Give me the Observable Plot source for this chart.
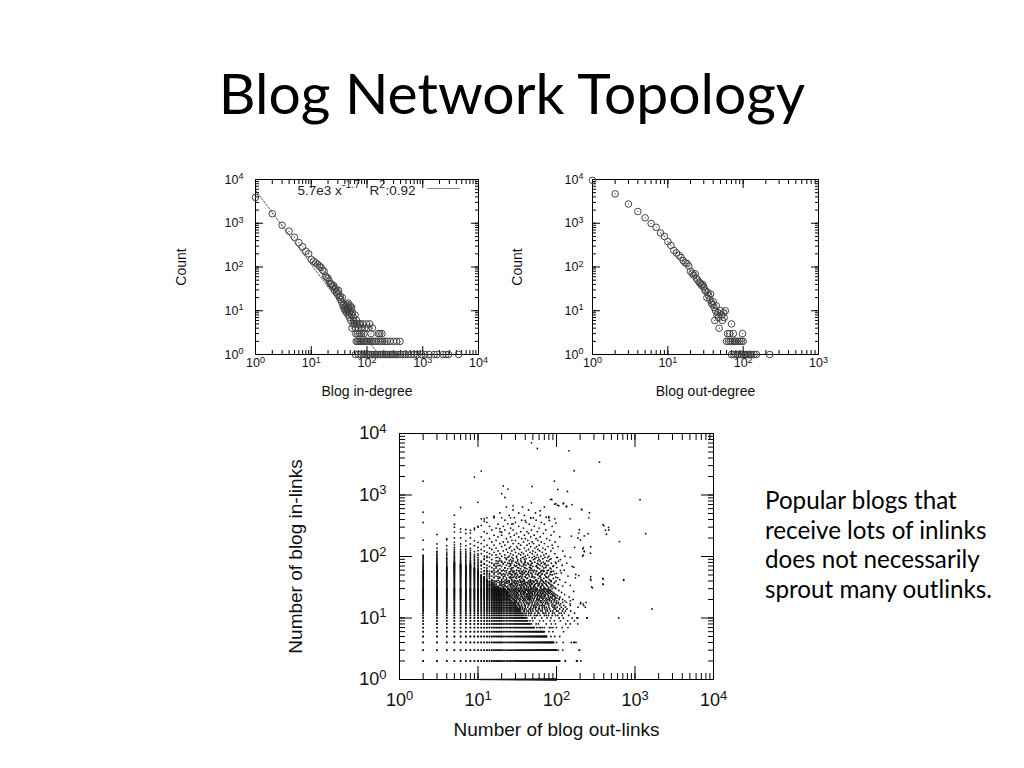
<!DOCTYPE html>
<html><head><meta charset="utf-8">
<script src="https://cdn.jsdelivr.net/npm/d3@7"></script>
<script src="https://cdn.jsdelivr.net/npm/@observablehq/plot@0.6"></script>
<style>
html,body{margin:0;padding:0;background:#fff;}
#slide{position:relative;width:1024px;height:768px;overflow:hidden;background:#fff;font-family:Lato,"Noto Sans",sans-serif;color:#000;}
#title{position:absolute;left:0;top:64px;width:1024px;text-align:center;font-size:57px;line-height:57px;}
#note{position:absolute;left:765px;top:485px;font-size:24.2px;line-height:29.7px;white-space:nowrap;}
.chart{position:absolute;}
.chart svg{overflow:visible;}
</style></head><body>
<div id="slide">
  <div id="title">Blog Network Topology</div>
  <div id="c1" class="chart" style="left:165px;top:165px;width:330px;height:235px"></div>
  <div id="c2" class="chart" style="left:505px;top:165px;width:330px;height:235px"></div>
  <div id="c3" class="chart" style="left:280px;top:420px;width:450px;height:320px"></div>
  <div id="note">Popular blogs that<br>receive lots of inlinks<br>does not necessarily<br>sprout many outlinks.</div>
</div>
<script>
// ---------- tick labels ----------
const decades4 = [1, 10, 100, 1000, 10000];
const decades3 = [1, 10, 100, 1000];
const SUP = {"0":"⁰","1":"¹","2":"²","3":"³","4":"⁴","-":"⁻"};
const UNSUP = Object.fromEntries(Object.entries(SUP).map(([k, v]) => [v, k]));
const decadeLabel = d => "10" + String(Math.round(Math.log10(d))).split("").map(c => SUP[c]).join("");

// ---------- chart 1: in-degree distribution [in-degree, count] ----------
const inDegree = [
  [1,3900],[2,1650],[3,900],[4,660],[5,480],[6,360],[7,290],[8,230],[9,200],[10,150],
  [11,135],[12,125],[13,115],[14,105],[15,98],[16,85],[17,80],[18,62],[19,58],[20,55],
  [21,48],[22,42],[23,40],[24,36],[25,38],[26,30],[27,33],[28,26],[29,28],[30,24],
  [31,29],[32,20],[33,22],[34,18],[35,16],[36,20],[37,13],[38,14],[39,11],[40,12],
  [41,10],[42,13],[43,9],[44,11],[45,10],[46,8],[47,12],[48,9],[49,7],[50,10],
  [44,14],[46,15],[50,13],[53,12],[51,6],[52,11],[53,8],[54,4],[55,9],[56,5],[57,7],[58,6],
  [60,5],[61,8],[62,4],[63,3],[65,6],[66,5],[68,3],[70,4],[72,5],[74,3],[76,5],[78,4],
  [80,3],[84,5],[88,3],[92,4],[98,5],[105,4],[112,5],[118,3],[125,4],[160,3],[170,3],[185,3],
  [64,2],[68,2],[72,2],[76,2],[80,2],[85,2],[90,2],[96,2],[102,2],[110,2],[118,2],[126,2],
  [135,2],[145,2],[160,2],[175,2],[190,2],[210,2],[230,2],[260,2],[300,2],[340,2],[390,2],
  [62,1],[70,1],[78,1],[85,1],[92,1],[100,1],[108,1],[115,1],[125,1],[135,1],[145,1],[155,1],
  [170,1],[180,1],[195,1],[210,1],[225,1],[240,1],[260,1],[280,1],[300,1],[330,1],[360,1],
  [400,1],[440,1],[480,1],[550,1],[620,1],[700,1],[800,1],[950,1],[1100,1],[1300,1],[1600,1],
  [1800,1],[2300,1],[2600,1],[2900,1],[4400,1]
];
// power-law fit shown in the key: count = 5.7e3 * x^-1.7, R^2 = 0.92
const fitA = 5.7e3, fitB = -1.7, fitR2 = 0.92;

// ---------- chart 2: out-degree distribution [out-degree, count] ----------
const outDegree = [
  [1,9600],[2,4700],[3,2750],[4,1850],[5,1330],[6,990],[7,810],[8,600],[9,500],[10,380],
  [11,310],[12,240],[13,210],[14,185],[15,165],[16,140],[17,125],[18,120],[19,105],[20,80],
  [21,72],[22,65],[23,70],[24,55],[25,50],[26,45],[27,42],[28,38],[29,40],[30,35],
  [31,30],[32,28],[33,20],[34,26],[35,22],[36,18],[37,24],[38,15],[39,14],[40,16],
  [41,12],[42,6],[43,10],[44,13],[45,8],[46,9],[47,7],[48,4],[50,10],[52,8],[53,6],
  [55,9],[56,7],[58,10],[60,2],[62,3],[64,2],[66,3],[68,2],[70,5],[72,2],[74,3],[76,2],
  [78,2],[80,2],[85,2],[90,2],[95,2],[98,3],[100,2],
  [70,1],[75,1],[80,1],[85,1],[90,1],[95,1],[100,1],[105,1],[110,1],[115,1],[120,1],
  [125,1],[130,1],[140,1],[150,1],[225,1]
];

// ---------- chart 3: out-links vs in-links ----------
// contiguous runs of integer counts that read as a solid lattice: [in-links, first out-links, last out-links]
const latticeRows = [
  [1,11,100],[2,2,110],[3,2,100],[4,2,92],[5,2,75],[6,2,70],[7,2,52],[8,2,46],[9,2,43],[10,2,40],
  [11,2,38],[12,2,37],[13,2,35],[14,2,34],[15,2,32],[16,2,31],[17,2,30],[18,2,29],[19,2,27],[20,2,26],
  [21,2,25],[22,2,25],[23,2,24],[24,2,23],[25,2,22],[26,2,22],[27,2,21],[28,2,21],[29,2,20],[30,2,20]
];
// vertical runs: [out-links, last in-links] (runs start at 2 in-links)
const latticeCols = [
  [2,60],[3,70],[4,65],[5,80],[6,75],[7,70],[8,75],[9,65],[10,60],[11,50],
  [12,46],[13,42],[14,40],[15,38],[16,35],[17,33],[18,32],[19,31],[20,30]
];
// thinning tops of those columns: [out-links, [in-links ...]]
const columnTops = [
  [2,[62,64,67,69,72,75,78,81,85,88,92,96,100,105,130,184,357,525,1680]],
  [3,[72,74,77,80,83,87,90,94,98,103,108,115,122,137,160,228]],
  [4,[67,69,72,76,79,83,88,92,97,104,110,118,130,150,187,195]],
  [5,[82,85,88,92,95,99,104,110,115,122,130,140,155,170,200,250,300,335,470]],
  [6,[77,80,84,87,91,96,101,107,113,120,130,145,160,200,250,280,626]],
  [7,[72,75,79,82,86,91,95,100,106,112,120,130,150,180,237,275]],
  [8,[77,80,83,87,92,96,102,108,115,125,135,160,200,240,265]],
  [9,[67,70,74,77,81,86,90,95,101,108,120,150,180,275,290,1960]],
  [10,[62,65,69,72,76,80,85,90,96,104,110,125,140,170,300,310,760]]
];
// scattered cloud: [in-links, [out-links ...]]
const cloudRows = [
  [7,[56,63,66,81,90,118,140]],[8,[48,55,59,74,86,97,131,150]],[9,[46,50,61,68,83,94,112,139]],
  [10,[42,49,53,65,76,85,108,122,158]],[11,[40,44,52,57,70,79,97,104,143]],
  [12,[39,46,48,60,67,73,89,115,126,170]],[13,[38,42,47,55,63,77,84,100,119,152]],
  [14,[35,41,45,50,61,71,76,93,110,136]],[15,[34,37,43,51,54,66,74,90,102,130,188]],
  [16,[33,39,40,48,57,64,70,87,96,124]],[17,[32,36,42,45,53,59,72,80,99,113,149]],
  [18,[30,35,38,46,49,62,68,77,92,106,134]],[19,[29,31,37,41,51,55,65,75,86,101,128]],
  [20,[28,33,35,43,47,58,60,73,82,95,120,163]],[21,[27,30,34,39,46,52,61,69,81,97,109]],
  [22,[26,29,32,40,44,48,57,66,79,88,111,145]],[23,[25,28,33,36,42,50,54,64,72,90,103]],
  [24,[24,27,31,35,41,45,56,59,71,85,98,127]],[25,[23,26,30,37,39,47,53,62,68,80,94]],
  [26,[23,25,29,32,38,44,49,58,67,78,91,116]],[27,[22,24,28,34,36,43,51,55,65,76,87]],
  [28,[22,23,27,31,37,40,46,54,63,74,84,107]],[29,[21,24,26,30,35,42,45,52,61,70,82]],
  [30,[21,22,25,29,33,39,44,50,57,69,79,98]],
  [11,[41,47,55,62,74,88,118]],[12,[41,44,53,58,69,80,94,108]],
  [13,[39,44,50,58,66,73,90,105,130]],[14,[37,39,47,54,59,66,82,98,122]],
  [15,[35,40,47,55,60,70,80,95,115]],[16,[34,36,44,51,53,61,67,79,92,110]],
  [17,[33,39,44,49,56,66,76,88,105]],[18,[31,33,41,43,53,57,64,73,85,99,120]],
  [19,[30,34,39,45,48,59,62,70,81,94]],[20,[29,31,38,40,45,51,56,67,78,90,108]],
  [21,[28,32,37,42,44,49,57,65,75,87,101]],[22,[27,31,35,37,42,46,53,62,71,84,96]],
  [23,[26,30,31,39,45,47,58,61,69,79,94]],[24,[25,29,33,38,43,49,52,65,77,90]],
  [25,[24,28,32,35,42,44,49,57,65,74,87]],[26,[24,27,31,35,40,46,53,62,72,83]],
  [27,[23,26,30,33,38,39,46,49,60,70,80]],[28,[23,25,29,33,34,42,44,50,58,68,79]],
  [29,[22,25,28,32,37,40,48,56,66,76]],[30,[22,24,27,31,35,41,47,54,64,73,88]],
  [31,[11,14,19,21,27,33,36,48,55,71,96]],[32,[12,13,17,23,26,31,39,44,62,84]],
  [33,[15,18,20,24,29,35,42,51,58,77,120]],[34,[11,16,19,22,28,32,37,46,67,89]],
  [35,[13,14,21,25,30,34,40,53,60,74,105]],[36,[12,17,20,26,27,38,43,49,65,82]],
  [37,[15,16,23,24,31,36,45,56,70,93]],[38,[11,13,18,22,29,33,41,47,61,78,130]],
  [39,[14,19,21,25,28,35,39,52,68,86]],[40,[12,16,17,24,30,32,44,50,57,73,99]],
  [31,[16,24,30,38,42,51,63,79]],[32,[18,21,28,35,47,53,69,92]],
  [33,[13,22,26,31,38,46,64,86]],[34,[14,20,26,34,41,52,59,75]],
  [35,[17,19,27,36,45,48,66,85]],[36,[15,22,30,32,40,54,58,73]],
  [37,[12,19,27,29,39,48,61,80]],[38,[16,20,25,35,43,51,68,95]],
  [39,[13,17,23,31,37,46,57,74]],[40,[15,20,27,35,38,47,63,84]],
  [41,[12,15,18,22,25,29,34,39,47,54,66,85]],
  [42,[13,15,20,23,27,34,38,46,55,64,81,110]],
  [44,[11,14,18,21,26,31,36,42,59,69,91]],[45,[13,16,19,23,27,30,36,43,52,63,78,104]],
  [46,[12,16,19,25,28,33,40,48,53,75,98]],[47,[12,14,18,21,26,31,34,40,50,61,73]],
  [48,[13,15,17,22,29,35,37,45,62,80,140]],
  [50,[11,14,20,24,27,32,41,49,58,71,88]],[51,[13,16,20,22,27,30,37,44,57,64,83]],
  [52,[12,18,21,26,30,36,43,54,66,94]],[53,[12,14,19,25,29,35,39,48,59,74,100]],
  [54,[13,16,19,23,31,34,39,47,60,76,115]],
  [56,[11,15,17,25,28,37,44,51,63,84]],[57,[13,15,18,26,28,36,41,55,68,87]],
  [58,[12,14,20,22,29,33,40,56,70,92]],[59,[12,16,20,23,31,34,45,49,64,76,112]],
  [60,[13,18,21,27,31,38,46,52,67,79,125]],
  [63,[11,16,19,24,26,35,42,48,61,85]],[65,[13,17,22,27,33,40,47,58,69,83]],
  [66,[12,15,22,28,32,39,45,57,73,101]],
  [69,[14,17,20,25,30,36,50,55,66,90]],[71,[11,16,18,26,31,38,46,56,74,92]],
  [72,[11,13,19,23,29,34,41,47,62,78,118]],
  [75,[12,16,21,26,33,38,44,59,70]],[77,[12,17,21,25,33,39,48,57,72,99]],
  [78,[15,18,24,27,31,43,49,64,86,135]],
  [81,[11,14,20,22,30,36,40,53,68,97]],[84,[11,18,20,27,32,40,47,62,79,106]],
  [85,[13,17,19,25,28,35,46,58,75]],
  [89,[12,15,23,26,32,39,51,60,82,112]],[92,[12,19,23,28,35,41,53,67,85]],
  [96,[13,17,22,31,38,49,59,77,103]],
  [97,[14,18,24,27,37,45,55,71,100]],[101,[12,13,20,25,31,40,52,63,80,128]],
  [106,[15,17,22,28,35,43,57,69]],[111,[11,14,19,26,33,38,49,74,95]],
  [117,[13,16,24,30,36,46,54,66]],[123,[12,18,21,27,41,50,61,85,120]],
  [130,[11,15,23,29,34,44,58,72]],[137,[14,17,25,32,39,53,67,90]],
  [145,[12,20,26,31,47,56,78,105]],[153,[13,16,22,35,42,60,88]],
  [162,[11,19,28,33,45,51,70]],[172,[15,21,24,38,49,64,96]],
  [183,[12,17,27,30,43,58,82]],[195,[14,23,36,40,55,75]],
  [208,[11,18,26,33,47,62,110]],[222,[16,20,29,39,52,85]],
  [237,[13,25,31,44,68]],[253,[12,19,35,42,57,93]],[270,[15,22,28,48,73]],
  [290,[17,26,38,60]],[310,[14,21,33,52,88]],[335,[18,27,45,70]],[360,[13,30,41,64]],
  [390,[22,36,55]],[425,[16,29,47,80]],[465,[25,39,62]],[510,[19,33,54]],
  [570,[28,44]],[640,[23,37,70]]
];
// individual sparse points: [out-links, in-links]
const sparseLinks = [
  [48,7050],[57,5700],[144,5230],[353,3420],[11,2450],[168,2480],[94,1680],
  [21,1400],[24,1250],[49,1380],[104,1230],[138,1140],[20,1050],[22,910],[1160,840],
  [84,850],[98,720],[103,680],[122,720],[133,650],[158,700],[208,590],[211,575],
  [263,515],[258,425],[28,670],[12,408],[16,440],[48,745],[87,845],[95,710],[107,670],
  [123,735],[135,650],[62,555],[80,445],[11,410],[12,375],[13,425],[16,455],[20,425],
  [26,425],[28,340],[40,385],[47,420],[51,425],[74,435],[81,385],[95,410],[98,350],[149,410],
  [24,340],[19,283],[20,248],[11,320],[390,330],[420,268],[460,297],[400,317],[464,270],
  [433,230],[1370,235],[635,175],[196,272],[193,240],[187,200],[202,186],[226,216],[253,235],
  [155,214],[170,141],[220,139],[226,122],[271,113],[273,144],[216,133],[220,105],[150,97],
  [215,101],[227,120],[158,69],[166,67],[174,45],[192,49],[271,43],[275,41],[394,43],
  [394,35],[720,41],[287,31],[166,27],[150,34],[150,19],[150,16],[202,17],[222,16],[233,15],
  [238,18],[1650,14],[169,9],[187,10],[187,8],[246,10],[620,10],[169,4],[177,4],[197,3],
  [184,2],[204,2],[176,51],[280,32],[390,44],[390,36],[715,42],[273,47],[203,18],[218,17],
  [182,10],[243,10],[154,4],[129,2],[194,3],
  [105,3],[120,3],[100,4],[122,4],[166,4],[85,5],[95,5],[110,5],[80,6],[90,6],[123,6],
  [60,7],[70,7],[85,7],[100,7],[130,2],[180,2]
];
const linkPoints = [
  ...latticeRows.flatMap(([inl, a, b]) => d3.range(a, b + 1).map(out => [out, inl])),
  ...latticeCols.flatMap(([out, top]) => d3.range(2, top + 1).map(inl => [out, inl])),
  ...columnTops.flatMap(([out, ins]) => ins.map(inl => [out, inl])),
  ...cloudRows.flatMap(([inl, outs]) => outs.map(out => [out, inl])),
  ...sparseLinks
];

// ---------- helpers ----------
const FONT = '"Liberation Sans", Arial, Helvetica, sans-serif';
function logFrame(o) {
  const m = [Plot.frame({stroke: "#000", strokeWidth: 1})];
  for (const a of ["bottom", "top"]) {
    m.push(Plot.axisX({anchor: a, ticks: 40, tickSize: -o.minor, fill: "none", label: null, stroke: "#000"}));
    m.push(Plot.axisX(o.xDec, {anchor: a, tickSize: -o.major, fill: "none", label: null, stroke: "#000"}));
  }
  for (const a of ["left", "right"]) {
    m.push(Plot.axisY({anchor: a, ticks: 40, tickSize: -o.minor, fill: "none", label: null, stroke: "#000"}));
    m.push(Plot.axisY(o.yDec, {anchor: a, tickSize: -o.major, fill: "none", label: null, stroke: "#000"}));
  }
  m.push(Plot.axisX(o.xDec, {anchor: "bottom", tickSize: 0, tickPadding: o.padX, tickFormat: decadeLabel, fontSize: o.tickFont, label: null, fill: "#111"}));
  m.push(Plot.axisY(o.yDec, {anchor: "left", tickSize: 0, tickPadding: o.padY, tickFormat: decadeLabel, fontSize: o.tickFont, label: null, fill: "#111"}));
  m.push(Plot.axisX([], {anchor: "bottom", tickSize: 0, label: o.xLabel, labelAnchor: "center", labelOffset: o.xOff, labelArrow: false, fontSize: o.labelFont, fill: "#111"}));
  m.push(Plot.axisY([], {anchor: "left", tickSize: 0, label: o.yLabel, labelAnchor: "center", labelOffset: o.yOff, labelArrow: false, fontSize: o.labelFont, fill: "#111"}));
  return m;
}
// typeset "10⁴"-style tick labels as a base with a raised, smaller exponent
function raiseExponents(svg) {
  svg.querySelectorAll("text").forEach(t => {
    if (t.children.length) return;
    const m = /^10([⁰¹²³⁴⁻]+)$/.exec(t.textContent);
    if (!m) return;
    t.textContent = "10";
    const ts = document.createElementNS("http://www.w3.org/2000/svg", "tspan");
    ts.setAttribute("font-size", "72%");
    ts.setAttribute("dy", "-0.5em");
    ts.textContent = m[1].split("").map(c => UNSUP[c]).join("");
    t.appendChild(ts);
  });
  return svg;
}
const style = {fontFamily: FONT, background: "none", color: "#000", overflow: "visible"};

// ---------- chart 1 ----------
const fitEnd = Math.pow(1 / fitA, 1 / fitB);
const fitLine = [1, fitEnd].map(x => [x, fitA * Math.pow(x, fitB)]);
const keyParts = [
  {t: `${fitA.toExponential(1).replace("e+", "e")} x`, dx: 42, dy: 15.3, fs: 13.5},
  {t: `${fitB}`, dx: 86.5, dy: 8.8, fs: 10.5},
  {t: "R", dx: 114, dy: 15.3, fs: 13.5},
  {t: "2", dx: 123.8, dy: 8.8, fs: 10.5},
  {t: `:${fitR2}`, dx: 130, dy: 15.3, fs: 13.5}
];
const c1 = Plot.plot({
  width: 330, height: 235, marginLeft: 90, marginRight: 17, marginTop: 14, marginBottom: 46,
  style,
  x: {type: "log", domain: [1, 1e4], axis: null},
  y: {type: "log", domain: [1, 1e4], axis: null},
  marks: [
    ...logFrame({xDec: decades4, yDec: decades4, major: 8, minor: 4, tickFont: 12.5, padX: 4, padY: 12,
      xLabel: "Blog in-degree", yLabel: "Count", xOff: 41, yOff: 79, labelFont: 14}),
    Plot.line(fitLine, {x: d => d[0], y: d => d[1], stroke: "#333", strokeWidth: 0.8, strokeDasharray: "2,1.5"}),
    Plot.dot(inDegree, {x: d => d[0], y: d => d[1], r: 3.3, stroke: "#444", strokeWidth: 1, fill: "none"}),
    Plot.dot(inDegree, {x: d => d[0], y: d => d[1], r: 0.6, fill: "#333"}),
    ...keyParts.map(p => Plot.text([p.t], {text: d => d, frameAnchor: "top-left", textAnchor: "start", lineAnchor: "bottom", dx: p.dx, dy: p.dy, fontSize: p.fs, fill: "#222"})),
    Plot.text(["┄┄┄┄┄┄"], {text: d => d, frameAnchor: "top-left", textAnchor: "start", lineAnchor: "middle", dx: 171.7, dy: 9.3, fontSize: 9, fill: "#333", fontFamily: "DejaVu Sans"})
  ]
});
document.getElementById("c1").appendChild(raiseExponents(c1));

// ---------- chart 2 ----------
const c2 = Plot.plot({
  width: 330, height: 235, marginLeft: 87, marginRight: 17, marginTop: 14, marginBottom: 46,
  style,
  x: {type: "log", domain: [1, 1e3], axis: null},
  y: {type: "log", domain: [1, 1e4], axis: null},
  marks: [
    ...logFrame({xDec: decades3, yDec: decades4, major: 8, minor: 4, tickFont: 12.5, padX: 4, padY: 9,
      xLabel: "Blog out-degree", yLabel: "Count", xOff: 41, yOff: 80, labelFont: 14}),
    Plot.dot(outDegree, {x: d => d[0], y: d => d[1], r: 3.3, stroke: "#444", strokeWidth: 1, fill: "none"}),
    Plot.dot(outDegree, {x: d => d[0], y: d => d[1], r: 0.6, fill: "#333"})
  ]
});
document.getElementById("c2").appendChild(raiseExponents(c2));

// ---------- chart 3 ----------
const c3 = Plot.plot({
  width: 450, height: 320, marginLeft: 119, marginRight: 17, marginTop: 13, marginBottom: 61,
  style,
  x: {type: "log", domain: [1, 1e4], axis: null},
  y: {type: "log", domain: [1, 1e4], axis: null},
  marks: [
    ...logFrame({xDec: decades4, yDec: decades4, major: 13, minor: 6, tickFont: 18, padX: 14, padY: 13,
      xLabel: "Number of blog out-links", yLabel: "Number of blog in-links", xOff: 56, yOff: 111, labelFont: 19}),
    Plot.dot(linkPoints, {x: d => d[0], y: d => d[1], r: 0.9, fill: "#111"})
  ]
});
document.getElementById("c3").appendChild(raiseExponents(c3));
</script>
</body></html>
